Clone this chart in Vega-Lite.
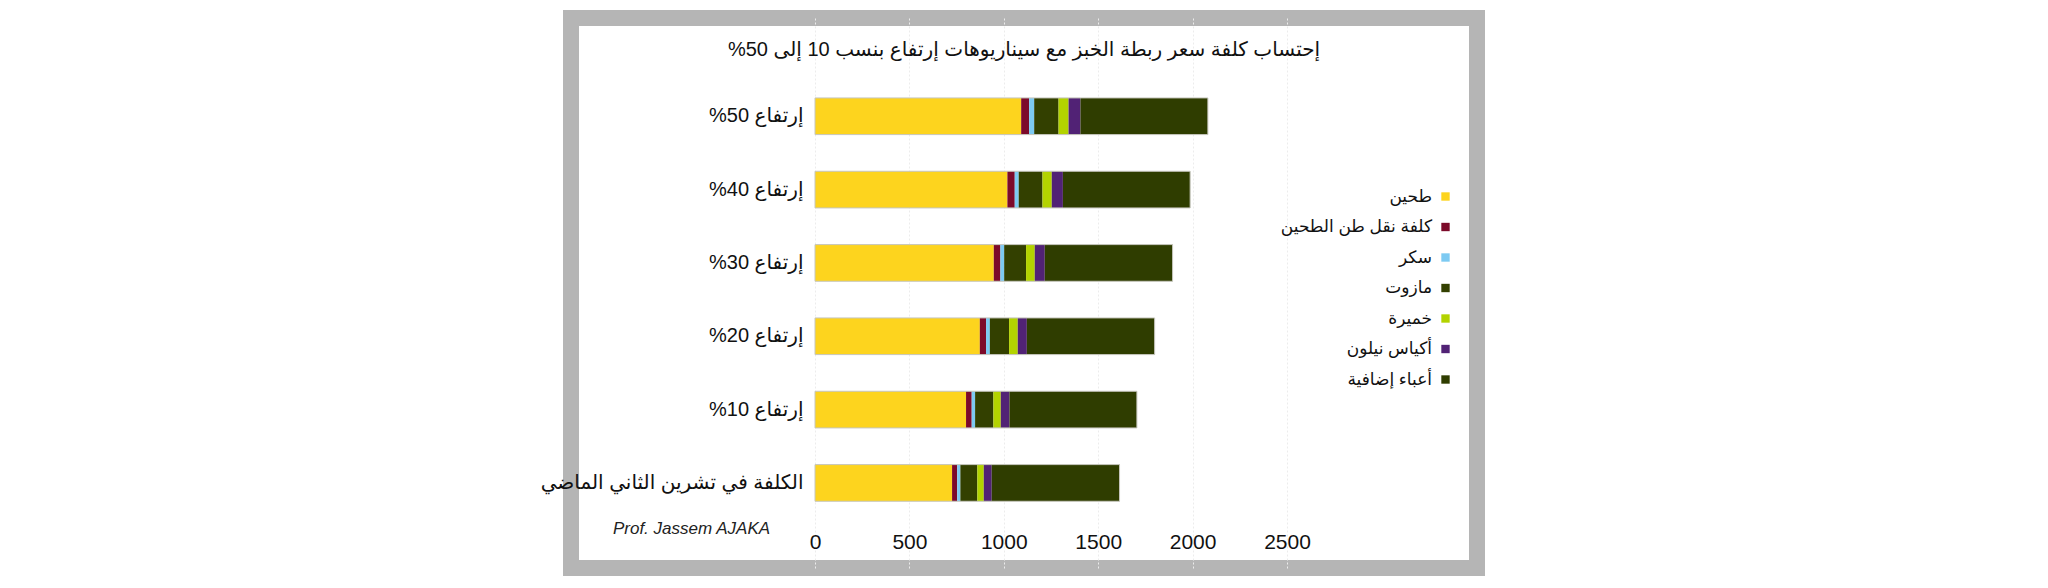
{
  "$schema": "https://vega.github.io/schema/vega-lite/v6.json",
  "autosize": {"type": "none"},
  "width": 906,
  "height": 550,
  "padding": {"left": 571, "top": 18, "right": 571, "bottom": 20},
  "background": "white",
  "config": {
    "view": {"stroke": "#b5b5b5", "strokeWidth": 16, "fill": "white"},
    "font": "Liberation Sans, DejaVu Sans, sans-serif"
  },
  "title": {
    "text": "إحتساب كلفة سعر ربطة الخبز مع سيناريوهات إرتفاع بنسب 10 إلى 50%\u200F",
    "anchor": "middle", "frame": "group",
    "fontSize": 20, "fontWeight": "normal", "color": "#111",
    "offset": -32, "baseline": "middle", "dy": 20
  },
  "data": {"values": [
    {"scenario": "إرتفاع 50%\u200F", "item": "طحين", "value": 1092},
    {"scenario": "إرتفاع 50%\u200F", "item": "كلفة نقل طن الطحين", "value": 42},
    {"scenario": "إرتفاع 50%\u200F", "item": "سكر", "value": 27},
    {"scenario": "إرتفاع 50%\u200F", "item": "مازوت", "value": 129},
    {"scenario": "إرتفاع 50%\u200F", "item": "خميرة", "value": 53},
    {"scenario": "إرتفاع 50%\u200F", "item": "أكياس نيلون", "value": 63},
    {"scenario": "إرتفاع 50%\u200F", "item": "أعباء إضافية", "value": 675},
    {"scenario": "إرتفاع 40%\u200F", "item": "طحين", "value": 1019},
    {"scenario": "إرتفاع 40%\u200F", "item": "كلفة نقل طن الطحين", "value": 39},
    {"scenario": "إرتفاع 40%\u200F", "item": "سكر", "value": 21},
    {"scenario": "إرتفاع 40%\u200F", "item": "مازوت", "value": 126},
    {"scenario": "إرتفاع 40%\u200F", "item": "خميرة", "value": 49},
    {"scenario": "إرتفاع 40%\u200F", "item": "أكياس نيلون", "value": 59},
    {"scenario": "إرتفاع 40%\u200F", "item": "أعباء إضافية", "value": 674},
    {"scenario": "إرتفاع 30%\u200F", "item": "طحين", "value": 947},
    {"scenario": "إرتفاع 30%\u200F", "item": "كلفة نقل طن الطحين", "value": 35},
    {"scenario": "إرتفاع 30%\u200F", "item": "سكر", "value": 20},
    {"scenario": "إرتفاع 30%\u200F", "item": "مازوت", "value": 116},
    {"scenario": "إرتفاع 30%\u200F", "item": "خميرة", "value": 46},
    {"scenario": "إرتفاع 30%\u200F", "item": "أكياس نيلون", "value": 53},
    {"scenario": "إرتفاع 30%\u200F", "item": "أعباء إضافية", "value": 677},
    {"scenario": "إرتفاع 20%\u200F", "item": "طحين", "value": 873},
    {"scenario": "إرتفاع 20%\u200F", "item": "كلفة نقل طن الطحين", "value": 33},
    {"scenario": "إرتفاع 20%\u200F", "item": "سكر", "value": 20},
    {"scenario": "إرتفاع 20%\u200F", "item": "مازوت", "value": 102},
    {"scenario": "إرتفاع 20%\u200F", "item": "خميرة", "value": 46},
    {"scenario": "إرتفاع 20%\u200F", "item": "أكياس نيلون", "value": 48},
    {"scenario": "إرتفاع 20%\u200F", "item": "أعباء إضافية", "value": 677},
    {"scenario": "إرتفاع 10%\u200F", "item": "طحين", "value": 800},
    {"scenario": "إرتفاع 10%\u200F", "item": "كلفة نقل طن الطحين", "value": 30},
    {"scenario": "إرتفاع 10%\u200F", "item": "سكر", "value": 18},
    {"scenario": "إرتفاع 10%\u200F", "item": "مازوت", "value": 97},
    {"scenario": "إرتفاع 10%\u200F", "item": "خميرة", "value": 39},
    {"scenario": "إرتفاع 10%\u200F", "item": "أكياس نيلون", "value": 46},
    {"scenario": "إرتفاع 10%\u200F", "item": "أعباء إضافية", "value": 675},
    {"scenario": "الكلفة في تشرين الثاني الماضي", "item": "طحين", "value": 726},
    {"scenario": "الكلفة في تشرين الثاني الماضي", "item": "كلفة نقل طن الطحين", "value": 27},
    {"scenario": "الكلفة في تشرين الثاني الماضي", "item": "سكر", "value": 17},
    {"scenario": "الكلفة في تشرين الثاني الماضي", "item": "مازوت", "value": 90},
    {"scenario": "الكلفة في تشرين الثاني الماضي", "item": "خميرة", "value": 34},
    {"scenario": "الكلفة في تشرين الثاني الماضي", "item": "أكياس نيلون", "value": 42},
    {"scenario": "الكلفة في تشرين الثاني الماضي", "item": "أعباء إضافية", "value": 677}
  ]},
  "encoding": {
    "y": {
      "field": "scenario", "type": "nominal", "title": null,
      "sort": ["إرتفاع 50%\u200F", "إرتفاع 40%\u200F", "إرتفاع 30%\u200F", "إرتفاع 20%\u200F", "إرتفاع 10%\u200F", "الكلفة في تشرين الثاني الماضي"],
      "scale": {"paddingInner": 0.5, "paddingOuter": 1.017, "align": 0.545},
      "axis": {
        "offset": -240, "labelPadding": 8, "ticks": false, "domain": false, "grid": false,
        "labelFontSize": 20, "labelColor": "#111", "labelLimit": 400
      }
    }
  },
  "layer": [
    {
      "transform": [
        {"calculate": "indexof(['طحين', 'كلفة نقل طن الطحين', 'سكر', 'مازوت', 'خميرة', 'أكياس نيلون', 'أعباء إضافية'], datum.item)", "as": "stack_rank"}
      ],
      "mark": {"type": "bar"},
      "encoding": {
        "x": {
          "field": "value", "type": "quantitative", "stack": "zero",
          "scale": {"domain": [-1292.4, 3506.4], "nice": false, "zero": false},
          "axis": {
            "offset": -49, "values": [0, 500, 1000, 1500, 2000, 2500], "format": "d",
            "ticks": false, "domain": false, "labelPadding": 12,
            "labelFontSize": 21, "labelColor": "#111",
            "grid": true, "gridColor": "#ececec", "gridDash": [2, 2],
            "title": "Prof. Jassem AJAKA", "titleX": 120, "titleY": 9,
            "titleBaseline": "middle", "titleAlign": "center",
            "titleFontStyle": "italic", "titleFontWeight": "normal",
            "titleFontSize": 17, "titleColor": "#222"
          }
        },
        "order": {"field": "stack_rank", "type": "quantitative", "sort": "ascending"},
        "color": {
          "field": "item", "type": "nominal",
          "sort": ["طحين", "كلفة نقل طن الطحين", "سكر", "مازوت", "خميرة", "أكياس نيلون", "أعباء إضافية"],
          "scale": {
            "domain": ["طحين", "كلفة نقل طن الطحين", "سكر", "مازوت", "خميرة", "أكياس نيلون", "أعباء إضافية"],
            "range": ["#fdd41e", "#7c0a2a", "#7dcaf2", "#334000", "#b3d300", "#512275", "#2f3d00"]
          },
          "legend": {
            "title": null, "orient": "none", "legendX": 866, "legendY": 170,
            "symbolType": "square", "symbolSize": 70, "symbolStrokeWidth": 0,
            "labelAlign": "right", "labelOffset": -22, "labelFontSize": 17,
            "labelColor": "#111", "rowPadding": 12.5, "padding": 0, "labelLimit": 300
          }
        }
      }
    },
    {
      "mark": {"type": "bar", "fillOpacity": 0, "stroke": "#c6c6bd", "strokeWidth": 1},
      "encoding": {
        "x": {
          "aggregate": "sum", "field": "value", "type": "quantitative",
          "scale": {"domain": [-1292.4, 3506.4], "nice": false, "zero": false},
          "axis": {
            "offset": -49, "values": [0, 500, 1000, 1500, 2000, 2500], "format": "d",
            "ticks": false, "domain": false, "labelPadding": 12,
            "labelFontSize": 21, "labelColor": "#111",
            "grid": true, "gridColor": "#ececec", "gridDash": [2, 2],
            "title": "Prof. Jassem AJAKA", "titleX": 120, "titleY": 9,
            "titleBaseline": "middle", "titleAlign": "center",
            "titleFontStyle": "italic", "titleFontWeight": "normal",
            "titleFontSize": 17, "titleColor": "#222"
          }
        }
      }
    }
  ]
}
